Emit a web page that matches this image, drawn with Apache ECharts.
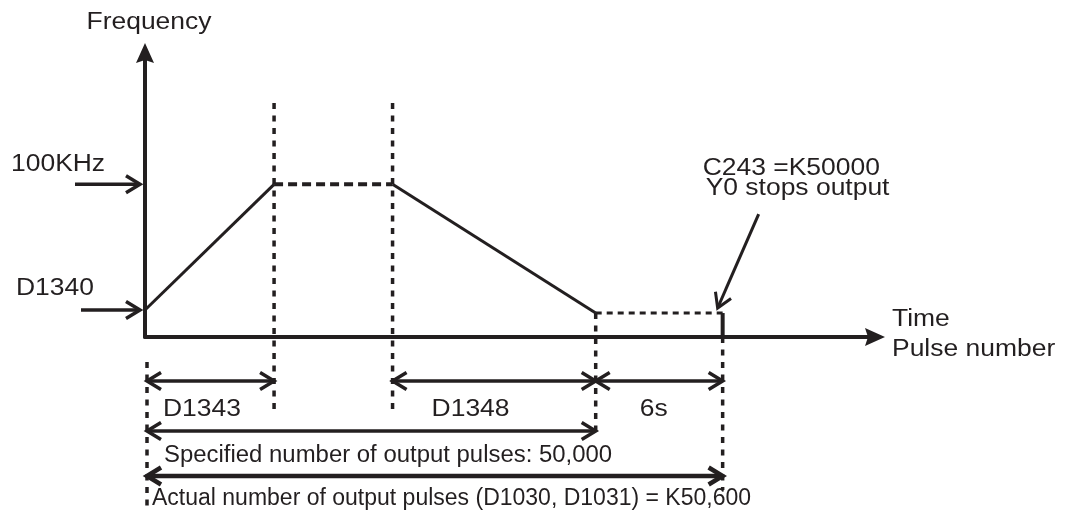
<!DOCTYPE html>
<html>
<head>
<meta charset="utf-8">
<script src="https://cdn.jsdelivr.net/npm/echarts@6.0.0/dist/echarts.min.js"></script>
<style>
  html, body { margin: 0; padding: 0; background: #ffffff; }
  #chart { width: 1072px; height: 515px; }
</style>
</head>
<body>
<div id="chart"></div>
<script>
// ---- Pulse output profile ----
// Boundaries of the phases: start, end of acceleration, end of max-speed hold,
// end of deceleration, stop.
const phaseTime = [0, 6.1, 11.7, 21.3, 27.3];        // s
const phaseFreq = [17.7, 100, 100, 15.7, 15.7];      // kHz
const timeAxisMax = 34.5;
const freqAxisMax = 186;

const axisTitles = ['Frequency', 'Time', 'Pulse number'];

const freqMarkLabels = ['100KHz', 'D1340'];
const freqMarkValues = [100, 17.7];

const spanLabels = ['D1343', 'D1348', '6s'];
const spanFrom = [0, 2, 3];   // phase index where each span starts
const spanTo = [1, 3, 4];     // phase index where each span ends

const totalLabels = [
  'Specified number of output pulses: 50,000',
  'Actual number of output pulses (D1030, D1031) = K50,600'
];
const totalTo = [3, 4];

const stopNote = ['C243 =K50000', 'Y0 stops output'];

// ---- Layout (pixels) and styles ----
const INK = '#231f20';
const FONT_FAMILY = '"Liberation Sans", Arial, Helvetica, sans-serif';
const LABEL_FONT = 23;
const LABEL_STRETCH = 1.15;
const NOTE_FONT = 23;
const NOTE_STRETCH = [1.04, 1.0];

// Vertical guides per phase boundary: top = px above the time axis
// (null = start at the profile), bottom = px below the time axis.
const GUIDE_LAYOUT = [
  { top: -25, bottom: 172, shift: 2 },
  { top: 234, bottom: 76 },
  { top: 234, bottom: 76 },
  { top: null, bottom: 100 },
  { top: 0, bottom: 153 }
];
const LEFT_GUIDE_SHIFT = 2;
const SPAN_ROW = 44;
const SPAN_LABEL_ROW = 73;
const SPAN_LABEL_DX = [16, 39, 44];
const TOTAL_ROW = [94, 139];
const TOTAL_WIDTH = [3.5, 4.5];
const TOTAL_LABEL_ROW = [119, 162];
const TOTAL_LABEL_DX = [19, 7];
const FREQ_ARROW_FROM = [-70, -64];
const FREQ_LABEL_DX = [-134, -129];
const FREQ_LABEL_DY = [-20, -21];
const STOP_POINTER = { tail: [36, -99], tip: [-5, -5] };
const STOP_NOTE_POS = [[-20, -144], [-17, -124]];
const AXIS_ARROW = 'path://M9,0 L18,20 L9,17 L0,20 Z';

// ---- drawing helpers for the custom series ----
function stroke(width, dash) {
  return { stroke: INK, lineWidth: width, fill: 'none', lineDash: dash || null,
           lineCap: 'butt', lineJoin: 'miter' };
}
function segment(x1, y1, x2, y2, st) {
  return { type: 'line', shape: { x1: x1, y1: y1, x2: x2, y2: y2 }, style: st };
}
// open chevron head whose tip sits at (tipX, tipY), pointing away from (fromX, fromY)
function head(tipX, tipY, fromX, fromY, len, half, st) {
  const dx = tipX - fromX, dy = tipY - fromY, d = Math.hypot(dx, dy);
  const ux = dx / d, uy = dy / d;
  const bx = tipX - ux * len, by = tipY - uy * len;
  return {
    type: 'polyline',
    shape: { points: [[bx - uy * half, by + ux * half], [tipX, tipY], [bx + uy * half, by - ux * half]] },
    style: st
  };
}
function arrow(x1, y1, x2, y2, width, both) {
  const st = stroke(width);
  const d = Math.hypot(x2 - x1, y2 - y1);
  const ux = (x2 - x1) / d, uy = (y2 - y1) / d;
  const kids = [segment(both ? x1 + ux * 2 : x1, both ? y1 + uy * 2 : y1, x2 - ux * 2, y2 - uy * 2, st),
                head(x2, y2, x1, y1, 14, 8.5, st)];
  if (both) kids.push(head(x1, y1, x2, y2, 14, 8.5, st));
  return kids;
}
function label(text, x, y, size, stretch, align) {
  const a = align || 'left';
  return {
    type: 'text', x: x, y: y, scaleX: stretch, scaleY: 1,
    style: { text: text, fill: INK, font: size + 'px ' + FONT_FAMILY,
             textAlign: a, align: a, textVerticalAlign: 'middle', verticalAlign: 'middle' }
  };
}

function profileSeries(points, width, type) {
  return {
    type: 'line', data: points, symbol: 'none', silent: true, z: 4,
    lineStyle: { color: INK, width: width, type: type, cap: 'butt' }
  };
}
const between = (a, b) => [[phaseTime[a], phaseFreq[a]], [phaseTime[b], phaseFreq[b]]];

const chart = echarts.init(document.getElementById('chart'), null, { renderer: 'canvas' });

const axisCommon = {
  type: 'value',
  axisTick: { show: false },
  axisLabel: { show: false },
  splitLine: { show: false },
  axisLine: {
    show: true, onZero: false,
    symbol: ['none', AXIS_ARROW], symbolSize: [18, 20],
    lineStyle: { color: INK, width: 4 }
  }
};

chart.setOption({
  animation: false,
  backgroundColor: '#ffffff',
  grid: { left: 145, top: 53, width: 730, height: 284, outerBoundsMode: 'none' },
  xAxis: Object.assign({}, axisCommon, { min: 0, max: timeAxisMax }),
  yAxis: Object.assign({}, axisCommon, { min: 0, max: freqAxisMax }),
  series: [
    // frequency profile
    profileSeries(between(0, 1), 3, 'solid'),
    profileSeries(between(1, 2), 4, [9, 5]),
    profileSeries(between(2, 3), 3, 'solid'),
    profileSeries(between(3, 4), 3, [6, 5]),
    profileSeries([[phaseTime[4], phaseFreq[4]], [phaseTime[4], 0]], 4, 'solid'),

    // dotted guides at every phase boundary
    {
      type: 'custom', coordinateSystem: 'cartesian2d', clip: false, silent: true, z: 3,
      data: phaseTime.map((t, i) => [t, phaseFreq[i]]),
      renderItem: function (params, api) {
        const g = GUIDE_LAYOUT[params.dataIndex];
        const p = api.coord([api.value(0), api.value(1)]);
        const axisY = api.coord([0, 0])[1];
        const x = p[0] + (g.shift || 0);
        const y1 = g.top === null ? p[1] : axisY - g.top;
        return segment(x, y1, x, axisY + g.bottom, stroke(3.5, [6, 6.5]));
      }
    },

    // spans: acceleration, deceleration, hold
    {
      type: 'custom', coordinateSystem: 'cartesian2d', clip: false, silent: true, z: 5,
      data: spanLabels.map((s, i) => [phaseTime[spanFrom[i]], phaseTime[spanTo[i]]]),
      renderItem: function (params, api) {
        const i = params.dataIndex;
        const axisY = api.coord([0, 0])[1];
        const x1 = api.coord([api.value(0), 0])[0] + (spanFrom[i] === 0 ? LEFT_GUIDE_SHIFT : 0);
        const x2 = api.coord([api.value(1), 0])[0];
        const y = axisY + SPAN_ROW;
        const kids = arrow(x1, y, x2, y, 3.5, true);
        kids.push(label(spanLabels[i], x1 + SPAN_LABEL_DX[i], axisY + SPAN_LABEL_ROW, LABEL_FONT, LABEL_STRETCH));
        return { type: 'group', children: kids };
      }
    },

    // specified and actual pulse totals
    {
      type: 'custom', coordinateSystem: 'cartesian2d', clip: false, silent: true, z: 5,
      data: totalTo.map(p => [phaseTime[0], phaseTime[p]]),
      renderItem: function (params, api) {
        const i = params.dataIndex;
        const axisY = api.coord([0, 0])[1];
        const x1 = api.coord([api.value(0), 0])[0] + LEFT_GUIDE_SHIFT;
        const x2 = api.coord([api.value(1), 0])[0];
        const y = axisY + TOTAL_ROW[i];
        const kids = arrow(x1, y, x2, y, TOTAL_WIDTH[i], true);
        kids.push(label(totalLabels[i], api.coord([0, 0])[0] + TOTAL_LABEL_DX[i],
                        axisY + TOTAL_LABEL_ROW[i], NOTE_FONT, NOTE_STRETCH[i]));
        return { type: 'group', children: kids };
      }
    },

    // frequency markers on the left
    {
      type: 'custom', coordinateSystem: 'cartesian2d', clip: false, silent: true, z: 5,
      data: freqMarkValues.map(f => [0, f]),
      renderItem: function (params, api) {
        const i = params.dataIndex;
        const p = api.coord([api.value(0), api.value(1)]);
        const kids = arrow(p[0] + FREQ_ARROW_FROM[i], p[1], p[0] - 5, p[1], 3.5, false);
        kids.push(label(freqMarkLabels[i], p[0] + FREQ_LABEL_DX[i], p[1] + FREQ_LABEL_DY[i], LABEL_FONT, LABEL_STRETCH));
        return { type: 'group', children: kids };
      }
    },

    // stop note with pointer
    {
      type: 'custom', coordinateSystem: 'cartesian2d', clip: false, silent: true, z: 5,
      data: [[phaseTime[4], phaseFreq[4]]],
      renderItem: function (params, api) {
        const p = api.coord([api.value(0), api.value(1)]);
        const kids = arrow(p[0] + STOP_POINTER.tail[0], p[1] + STOP_POINTER.tail[1],
                           p[0] + STOP_POINTER.tip[0], p[1] + STOP_POINTER.tip[1], 3, false);
        stopNote.forEach((t, k) => {
          kids.push(label(t, p[0] + STOP_NOTE_POS[k][0], p[1] + STOP_NOTE_POS[k][1], LABEL_FONT, LABEL_STRETCH));
        });
        return { type: 'group', children: kids };
      }
    },

    // axis titles
    {
      type: 'custom', coordinateSystem: 'cartesian2d', clip: false, silent: true, z: 5,
      data: [[0, freqAxisMax], [timeAxisMax, 0]],
      renderItem: function (params, api) {
        const p = api.coord([api.value(0), api.value(1)]);
        if (params.dataIndex === 0) {
          return label(axisTitles[0], p[0] + 4, p[1] - 30, LABEL_FONT, LABEL_STRETCH, 'center');
        }
        return { type: 'group', children: [
          label(axisTitles[1], p[0] + 17, p[1] - 17, LABEL_FONT, LABEL_STRETCH),
          label(axisTitles[2], p[0] + 17, p[1] + 13, LABEL_FONT, LABEL_STRETCH)
        ] };
      }
    }
  ]
});
</script>
</body>
</html>
